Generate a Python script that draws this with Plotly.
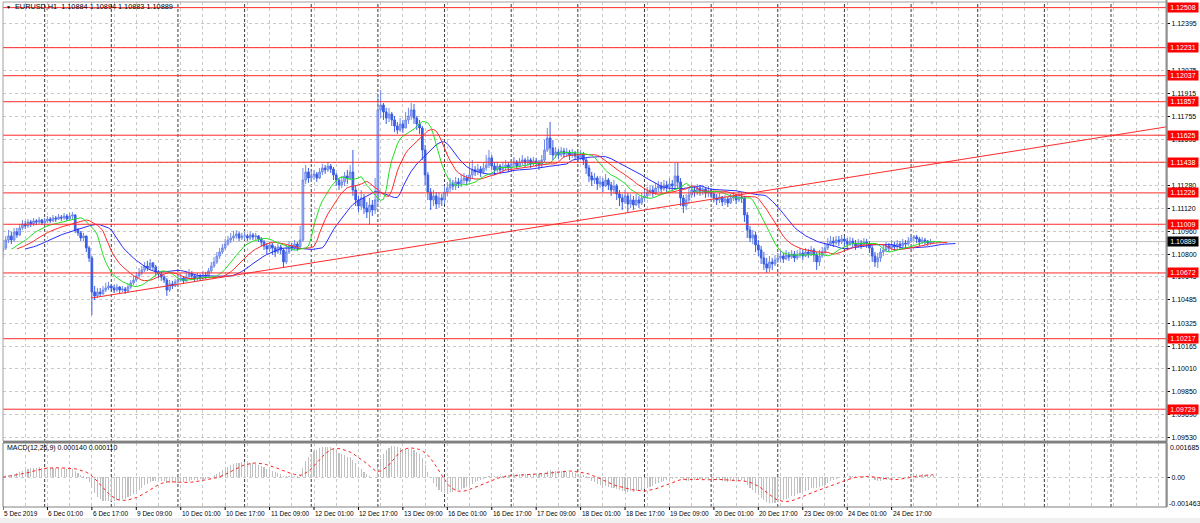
import plotly.graph_objects as go
import pandas as pd
import numpy as np

W, H = 1200, 523

# ---------------- data (EURUSD H1, 5 Dec 2019 09:00 ... 25 Dec 08:00) ----------------
close = [
    # 5 Dec 09-23
    1.10845, 1.10900, 1.10928, 1.10900, 1.10956, 1.10935, 1.10983, 1.11011, 1.10997, 1.11025, 1.11011, 1.11032, 1.11025, 1.11039, 1.11018,
    # 6 Dec
    1.11032, 1.11045, 1.11032, 1.11052, 1.11045, 1.11059, 1.11052, 1.11066, 1.11045, 1.11066, 1.11073, 1.10969, 1.10949, 1.10914, 1.10928, 1.10845, 1.10776, 1.10540, 1.10513, 1.10540, 1.10527, 1.10554, 1.10568, 1.10582,
    # 9 Dec
    1.10568, 1.10554, 1.10575, 1.10554, 1.10561, 1.10547, 1.10575, 1.10603, 1.10623, 1.10651, 1.10672, 1.10693, 1.10720, 1.10706, 1.10741, 1.10713, 1.10679, 1.10665, 1.10644, 1.10623, 1.10554, 1.10596, 1.10582, 1.10610,
    # 10 Dec
    1.10623, 1.10637, 1.10617, 1.10644, 1.10665, 1.10651, 1.10630, 1.10651, 1.10637, 1.10658, 1.10651, 1.10686, 1.10720, 1.10748, 1.10789, 1.10817, 1.10845, 1.10872, 1.10900, 1.10914, 1.10928, 1.10942, 1.10914, 1.10928,
    # 11 Dec
    1.10928, 1.10914, 1.10935, 1.10921, 1.10928, 1.10907, 1.10886, 1.10859, 1.10838, 1.10866, 1.10845, 1.10817, 1.10852, 1.10831, 1.10748, 1.10817, 1.10859, 1.10845, 1.10872, 1.10852, 1.10900, 1.11315, 1.11371, 1.11329,
    # 12 Dec
    1.11343, 1.11357, 1.11329, 1.11371, 1.11398, 1.11385, 1.11412, 1.11391, 1.11350, 1.11315, 1.11281, 1.11302, 1.11343, 1.11329, 1.11371, 1.11246, 1.11177, 1.11135, 1.11191, 1.11121, 1.11094, 1.11142, 1.11108, 1.11177,
    # 13 Dec
    1.11800, 1.11834, 1.11786, 1.11744, 1.11772, 1.11731, 1.11689, 1.11661, 1.11703, 1.11675, 1.11731, 1.11758, 1.11800, 1.11744, 1.11703, 1.11675, 1.11523, 1.11350, 1.11232, 1.11177, 1.11205, 1.11149, 1.11191, 1.11177,
    # 16 Dec
    1.11232, 1.11260, 1.11288, 1.11274, 1.11302, 1.11288, 1.11315, 1.11329, 1.11309, 1.11350, 1.11385, 1.11371, 1.11391, 1.11371, 1.11398, 1.11419, 1.11468, 1.11412, 1.11385, 1.11412, 1.11385, 1.11405, 1.11419, 1.11398,
    # 17 Dec
    1.11426, 1.11440, 1.11412, 1.11440, 1.11454, 1.11433, 1.11454, 1.11426, 1.11447, 1.11433, 1.11419, 1.11454, 1.11523, 1.11606, 1.11537, 1.11488, 1.11509, 1.11488, 1.11516, 1.11495, 1.11509, 1.11488, 1.11502, 1.11481,
    # 18 Dec
    1.11468, 1.11488, 1.11454, 1.11398, 1.11343, 1.11315, 1.11329, 1.11288, 1.11302, 1.11274, 1.11315, 1.11281, 1.11246, 1.11274, 1.11218, 1.11191, 1.11163, 1.11205, 1.11149, 1.11177, 1.11142, 1.11177, 1.11156, 1.11191,
    # 19 Dec
    1.11205, 1.11232, 1.11246, 1.11225, 1.11260, 1.11274, 1.11253, 1.11281, 1.11267, 1.11288, 1.11274, 1.11343, 1.11302, 1.11191, 1.11135, 1.11177, 1.11212, 1.11246, 1.11232, 1.11260, 1.11239, 1.11253, 1.11225, 1.11239,
    # 20 Dec
    1.11218, 1.11191, 1.11177, 1.11198, 1.11163, 1.11184, 1.11156, 1.11191, 1.11205, 1.11177, 1.11198, 1.11191, 1.11073, 1.10969, 1.10914, 1.10935, 1.10866, 1.10831, 1.10776, 1.10734, 1.10706, 1.10748, 1.10734, 1.10762,
    # 23 Dec
    1.10776, 1.10789, 1.10769, 1.10796, 1.10782, 1.10803, 1.10776, 1.10796, 1.10810, 1.10789, 1.10817, 1.10803, 1.10831, 1.10796, 1.10748, 1.10789, 1.10817, 1.10845, 1.10872, 1.10893, 1.10879, 1.10900, 1.10886, 1.10907,
    # 24 Dec
    1.10893, 1.10872, 1.10893, 1.10879, 1.10859, 1.10879, 1.10866, 1.10886, 1.10872, 1.10845, 1.10789, 1.10748, 1.10776, 1.10817, 1.10831, 1.10859, 1.10845, 1.10866, 1.10852, 1.10872, 1.10859, 1.10879, 1.10872, 1.10893,
    # 25 Dec
    1.10914, 1.10921, 1.10907, 1.10886, 1.10900, 1.10893, 1.10879, 1.10886, 1.10889,
]

high = [
    1.10900, 1.10928, 1.10969, 1.10956, 1.10983, 1.10983, 1.11011, 1.11039, 1.11032, 1.11045, 1.11039, 1.11052, 1.11045, 1.11059, 1.11045,
    1.11052, 1.11066, 1.11059, 1.11073, 1.11066, 1.11080, 1.11073, 1.11087, 1.11080, 1.11087, 1.11094, 1.11080, 1.10983, 1.10963, 1.10949, 1.10928, 1.10859, 1.10789, 1.10582, 1.10568, 1.10568, 1.10582, 1.10603, 1.10610,
    1.10596, 1.10589, 1.10596, 1.10582, 1.10582, 1.10575, 1.10596, 1.10623, 1.10651, 1.10679, 1.10706, 1.10720, 1.10748, 1.10755, 1.10769, 1.10748, 1.10727, 1.10693, 1.10679, 1.10658, 1.10637, 1.10623, 1.10617, 1.10630,
    1.10651, 1.10665, 1.10651, 1.10679, 1.10700, 1.10686, 1.10665, 1.10672, 1.10665, 1.10686, 1.10679, 1.10706, 1.10748, 1.10782, 1.10817, 1.10845, 1.10872, 1.10907, 1.10928, 1.10949, 1.10963, 1.10969, 1.10956, 1.10949,
    1.10956, 1.10942, 1.10956, 1.10949, 1.10949, 1.10935, 1.10921, 1.10900, 1.10879, 1.10886, 1.10879, 1.10859, 1.10872, 1.10866, 1.10845, 1.10866, 1.10893, 1.10879, 1.10900, 1.10886, 1.10997, 1.11398, 1.11419, 1.11398,
    1.11385, 1.11385, 1.11371, 1.11398, 1.11426, 1.11419, 1.11440, 1.11426, 1.11405, 1.11364, 1.11329, 1.11343, 1.11371, 1.11385, 1.11419, 1.11523, 1.11274, 1.11205, 1.11246, 1.11218, 1.11163, 1.11191, 1.11177, 1.11329,
    1.11904, 1.11938, 1.11848, 1.11814, 1.11814, 1.11786, 1.11758, 1.11717, 1.11744, 1.11731, 1.11786, 1.11814, 1.11848, 1.11841, 1.11758, 1.11731, 1.11689, 1.11558, 1.11371, 1.11260, 1.11246, 1.11232, 1.11232, 1.11218,
    1.11274, 1.11302, 1.11329, 1.11315, 1.11336, 1.11329, 1.11350, 1.11364, 1.11350, 1.11440, 1.11454, 1.11412, 1.11426, 1.11412, 1.11433, 1.11488, 1.11523, 1.11488, 1.11440, 1.11440, 1.11426, 1.11440, 1.11454, 1.11440,
    1.11454, 1.11475, 1.11454, 1.11468, 1.11488, 1.11468, 1.11481, 1.11468, 1.11475, 1.11468, 1.11454, 1.11488, 1.11592, 1.11675, 1.11717, 1.11592, 1.11544, 1.11530, 1.11544, 1.11537, 1.11537, 1.11523, 1.11530, 1.11516,
    1.11509, 1.11523, 1.11509, 1.11468, 1.11419, 1.11371, 1.11364, 1.11343, 1.11343, 1.11329, 1.11357, 1.11329, 1.11302, 1.11315, 1.11288, 1.11246, 1.11218, 1.11246, 1.11225, 1.11218, 1.11205, 1.11218, 1.11205, 1.11225,
    1.11246, 1.11267, 1.11281, 1.11274, 1.11295, 1.11309, 1.11302, 1.11315, 1.11309, 1.11329, 1.11315, 1.11433, 1.11433, 1.11329, 1.11212, 1.11218, 1.11260, 1.11281, 1.11274, 1.11288, 1.11281, 1.11281, 1.11267, 1.11274,
    1.11260, 1.11232, 1.11218, 1.11225, 1.11205, 1.11212, 1.11198, 1.11218, 1.11232, 1.11218, 1.11232, 1.11225, 1.11205, 1.11094, 1.10997, 1.10969, 1.10956, 1.10900, 1.10859, 1.10817, 1.10776, 1.10789, 1.10776, 1.10796,
    1.10810, 1.10824, 1.10810, 1.10831, 1.10817, 1.10831, 1.10824, 1.10831, 1.10845, 1.10831, 1.10845, 1.10838, 1.10859, 1.10845, 1.10817, 1.10831, 1.10852, 1.10879, 1.10914, 1.10928, 1.10921, 1.10928, 1.10928, 1.10935,
    1.10928, 1.10914, 1.10921, 1.10914, 1.10900, 1.10907, 1.10900, 1.10914, 1.10907, 1.10893, 1.10859, 1.10817, 1.10810, 1.10845, 1.10866, 1.10886, 1.10879, 1.10900, 1.10886, 1.10900, 1.10893, 1.10907, 1.10900, 1.10921,
    1.10942, 1.10935, 1.10935, 1.10921, 1.10921, 1.10914, 1.10900, 1.10907, 1.10894,
]

low = [
    1.10776, 1.10831, 1.10879, 1.10872, 1.10886, 1.10914, 1.10928, 1.10969, 1.10976, 1.10983, 1.10990, 1.10997, 1.11004, 1.11011, 1.11004,
    1.11004, 1.11018, 1.11018, 1.11025, 1.11025, 1.11039, 1.11032, 1.11039, 1.11032, 1.11039, 1.11045, 1.10949, 1.10928, 1.10893, 1.10893, 1.10817, 1.10748, 1.10381, 1.10485, 1.10499, 1.10506, 1.10520, 1.10540, 1.10554,
    1.10540, 1.10533, 1.10540, 1.10533, 1.10540, 1.10527, 1.10533, 1.10561, 1.10589, 1.10610, 1.10637, 1.10658, 1.10679, 1.10686, 1.10693, 1.10693, 1.10658, 1.10637, 1.10617, 1.10603, 1.10513, 1.10540, 1.10561, 1.10575,
    1.10596, 1.10610, 1.10596, 1.10610, 1.10630, 1.10630, 1.10610, 1.10617, 1.10617, 1.10623, 1.10630, 1.10637, 1.10672, 1.10706, 1.10734, 1.10769, 1.10803, 1.10831, 1.10859, 1.10879, 1.10893, 1.10907, 1.10893, 1.10900,
    1.10900, 1.10893, 1.10900, 1.10900, 1.10900, 1.10886, 1.10859, 1.10831, 1.10803, 1.10817, 1.10796, 1.10782, 1.10803, 1.10803, 1.10706, 1.10734, 1.10803, 1.10824, 1.10831, 1.10824, 1.10838, 1.10886, 1.11288, 1.11295,
    1.11302, 1.11315, 1.11302, 1.11322, 1.11350, 1.11357, 1.11371, 1.11364, 1.11315, 1.11274, 1.11246, 1.11260, 1.11274, 1.11288, 1.11315, 1.11205, 1.11135, 1.11094, 1.11108, 1.11080, 1.11052, 1.11004, 1.11066, 1.11080,
    1.11142, 1.11744, 1.11731, 1.11703, 1.11717, 1.11689, 1.11648, 1.11634, 1.11648, 1.11641, 1.11675, 1.11703, 1.11731, 1.11703, 1.11661, 1.11634, 1.11454, 1.11281, 1.11177, 1.11108, 1.11135, 1.11115, 1.11121, 1.11135,
    1.11149, 1.11205, 1.11232, 1.11246, 1.11246, 1.11260, 1.11267, 1.11288, 1.11281, 1.11302, 1.11329, 1.11343, 1.11350, 1.11336, 1.11357, 1.11378, 1.11398, 1.11385, 1.11350, 1.11371, 1.11357, 1.11371, 1.11385, 1.11371,
    1.11385, 1.11405, 1.11391, 1.11405, 1.11419, 1.11405, 1.11412, 1.11398, 1.11412, 1.11405, 1.11385, 1.11398, 1.11440, 1.11509, 1.11488, 1.11454, 1.11468, 1.11461, 1.11475, 1.11468, 1.11475, 1.11454, 1.11468, 1.11454,
    1.11440, 1.11454, 1.11419, 1.11357, 1.11302, 1.11274, 1.11288, 1.11246, 1.11260, 1.11232, 1.11267, 1.11246, 1.11205, 1.11218, 1.11177, 1.11135, 1.11108, 1.11149, 1.11094, 1.11121, 1.11108, 1.11135, 1.11121, 1.11142,
    1.11163, 1.11184, 1.11205, 1.11198, 1.11212, 1.11232, 1.11225, 1.11239, 1.11232, 1.11246, 1.11239, 1.11260, 1.11260, 1.11135, 1.11087, 1.11108, 1.11149, 1.11191, 1.11198, 1.11212, 1.11205, 1.11212, 1.11191, 1.11198,
    1.11191, 1.11163, 1.11142, 1.11156, 1.11135, 1.11142, 1.11128, 1.11149, 1.11170, 1.11149, 1.11163, 1.11156, 1.11025, 1.10914, 1.10886, 1.10872, 1.10817, 1.10789, 1.10734, 1.10693, 1.10672, 1.10679, 1.10693, 1.10720,
    1.10741, 1.10748, 1.10741, 1.10762, 1.10755, 1.10769, 1.10748, 1.10762, 1.10776, 1.10762, 1.10782, 1.10776, 1.10789, 1.10748, 1.10693, 1.10720, 1.10776, 1.10803, 1.10831, 1.10859, 1.10852, 1.10866, 1.10859, 1.10872,
    1.10859, 1.10845, 1.10859, 1.10852, 1.10831, 1.10845, 1.10838, 1.10852, 1.10845, 1.10810, 1.10748, 1.10713, 1.10706, 1.10748, 1.10789, 1.10817, 1.10817, 1.10831, 1.10824, 1.10838, 1.10831, 1.10845, 1.10845, 1.10859,
    1.10879, 1.10893, 1.10879, 1.10859, 1.10872, 1.10866, 1.10859, 1.10866, 1.10883,
]

first_open = 1.10831
last_open = 1.10884

date_labels = ["5 Dec 2019", "6 Dec 01:00", "6 Dec 17:00", "9 Dec 09:00", "10 Dec 01:00",
               "10 Dec 17:00", "11 Dec 09:00", "12 Dec 01:00", "12 Dec 17:00", "13 Dec 09:00",
               "16 Dec 01:00", "16 Dec 17:00", "17 Dec 09:00", "18 Dec 01:00", "18 Dec 17:00",
               "19 Dec 09:00", "20 Dec 01:00", "20 Dec 17:00", "23 Dec 09:00", "24 Dec 01:00",
               "24 Dec 17:00"]
label_every = 16
first_midnight = 15      # bar index of 6 Dec 00:00

price_ticks = [1.12395, 1.12235, 1.12075, 1.11915, 1.11755, 1.11595, 1.11435, 1.11280, 1.11120,
               1.10960, 1.10800, 1.10645, 1.10485, 1.10325, 1.10165, 1.10010, 1.09850, 1.09690, 1.09530]
hidden_ticks = [1.12235, 1.11435]

levels = [1.12508, 1.12231, 1.12037, 1.11857, 1.11625, 1.11438, 1.11226, 1.11009, 1.10672, 1.10217, 1.09729]
current_price = 1.10889

trend_x = [32, 250]
trend_y = [1.10499, 1.11166]

macd_top, macd_bottom = 0.001685, -0.001463
title_text = "EURUSD,H1  1.10884 1.10894 1.10883 1.10889"
macd_text = "MACD(12,26,9) 0.000140 0.000110"

# ---------------- derived series ----------------
n = len(close)
idx = np.arange(n)
opens = [first_open] + close[:-1]
opens[-1] = last_open

df = pd.DataFrame({"o": opens, "h": high, "l": low, "c": close})
median = (df.h + df.l) / 2


def smma(series, period):
    out = np.zeros(len(series))
    out[0] = series.iloc[0]
    for i in range(1, len(series)):
        out[i] = (out[i - 1] * (period - 1) + series.iloc[i]) / period
    return out


jaw = smma(median, 13)
teeth = smma(median, 8)
lips = smma(median, 5)

ema12 = df.c.ewm(span=12, adjust=False).mean()
ema26 = df.c.ewm(span=26, adjust=False).mean()
macd_main = ema12 - ema26
macd_signal = macd_main.rolling(9, min_periods=1).mean()

# ---------------- layout geometry ----------------
X0, X1 = 3, 1166
MAIN_T, MAIN_B = 2, 441
SUB_T, SUB_B = 443, 507
BAR_PX = 2.777
x_max = (X1 - X0) / BAR_PX
price_top = 1.12547
price_bot = 1.09509


def fx(px):
    return px / W


def fy(py):
    return 1 - py / H


FONT = "Liberation Sans, Arial, sans-serif"
FS = 7

fig = go.Figure()

fig.add_trace(go.Candlestick(
    x=idx, open=df.o, high=df.h, low=df.l, close=df.c,
    increasing=dict(line=dict(color="#6f89e8", width=1), fillcolor="#a9baf2"),
    decreasing=dict(line=dict(color="#3a5de2", width=1), fillcolor="#3a5de2"),
    whiskerwidth=0, xaxis="x", yaxis="y", hoverinfo="skip"))

for vals, shift, color in [(jaw, 8, "#2b2bff"), (teeth, 5, "#ff2b2b"), (lips, 3, "#22e022")]:
    fig.add_trace(go.Scatter(x=idx + shift, y=vals, mode="lines",
                             line=dict(color=color, width=1), xaxis="x", yaxis="y",
                             hoverinfo="skip"))

fig.add_trace(go.Bar(x=idx, y=macd_main, marker=dict(color="#c0c0c0", line=dict(width=0)),
                     width=0.4, xaxis="x2", yaxis="y2", hoverinfo="skip"))
fig.add_trace(go.Scatter(x=idx, y=macd_signal, mode="lines",
                         line=dict(color="#ff2020", width=1, dash="dot"),
                         xaxis="x2", yaxis="y2", hoverinfo="skip"))

grid_x = list(range(0, int(x_max) + 1, 8))
axis_common = dict(showgrid=True, gridcolor="#c8c8c8", griddash="3px,3px", gridwidth=1,
                   zeroline=False, showline=False, automargin=False)

fig.update_layout(
    width=W, height=H, margin=dict(l=0, r=0, t=0, b=0, pad=0),
    paper_bgcolor="white", plot_bgcolor="white", showlegend=False,
    font=dict(family=FONT, size=FS, color="black"), bargap=0, boxgap=0.15,
    xaxis=dict(domain=[fx(X0), fx(X1)], range=[0, x_max], tickvals=grid_x,
               showticklabels=False, ticks="", anchor="y",
               rangeslider=dict(visible=False), **axis_common),
    yaxis=dict(domain=[fy(MAIN_B), fy(MAIN_T)], range=[price_bot, price_top], side="right",
               tickvals=price_ticks,
               ticktext=["" if t in hidden_ticks else f"{t:.5f}" for t in price_ticks],
               ticks="outside", ticklen=3, tickcolor="black", anchor="x",
               tickfont=dict(family=FONT, size=FS, color="black"), **axis_common),
    xaxis2=dict(domain=[fx(X0), fx(X1)], range=[0, x_max], matches="x", tickvals=grid_x,
                showticklabels=False, ticks="", anchor="y2", **axis_common),
    yaxis2=dict(domain=[fy(SUB_B), fy(SUB_T)], range=[macd_bottom, macd_top], side="right",
                tickvals=[0], ticktext=["0.00"], ticks="outside", ticklen=3, tickcolor="black",
                anchor="x2", tickfont=dict(family=FONT, size=FS, color="black"), **axis_common),
)

shapes = []
# bottom grey strip
shapes.append(dict(type="rect", xref="paper", yref="paper", x0=0, x1=1, y0=0, y1=fy(518),
                   fillcolor="#f0f0f0", line=dict(width=0), layer="below"))
# day separators
for d in range(first_midnight, int(x_max) + 1, 24):
    shapes.append(dict(type="line", xref="x", yref="paper", x0=d, x1=d,
                       y0=fy(SUB_B), y1=fy(MAIN_T),
                       line=dict(color="#3a3a3a", width=1, dash="3px,2px"), layer="between"))
# current price line
shapes.append(dict(type="line", xref="paper", yref="y", x0=fx(X0), x1=fx(X1),
                   y0=current_price, y1=current_price,
                   line=dict(color="#c0c0c0", width=1), layer="between"))
# horizontal levels
for lv in levels:
    shapes.append(dict(type="line", xref="paper", yref="y", x0=fx(X0), x1=fx(X1),
                       y0=lv, y1=lv, line=dict(color="#ff2a2a", width=1), layer="above"))
# trend line (ray to the right edge)
slope = (trend_y[1] - trend_y[0]) / (trend_x[1] - trend_x[0])
shapes.append(dict(type="line", xref="x", yref="y", x0=trend_x[0], y0=trend_y[0],
                   x1=x_max, y1=trend_y[0] + slope * (x_max - trend_x[0]),
                   line=dict(color="#ff2a2a", width=1), layer="above"))
# panel frames
shapes.append(dict(type="rect", xref="paper", yref="paper", x0=fx(X0), x1=fx(X1 + 1),
                   y0=fy(MAIN_B), y1=fy(MAIN_T), line=dict(color="#a0a0a0", width=1),
                   layer="above"))
shapes.append(dict(type="rect", xref="paper", yref="paper", x0=fx(X0), x1=fx(X1 + 1),
                   y0=fy(SUB_B), y1=fy(SUB_T), line=dict(color="#808080", width=1),
                   layer="above"))
shapes.append(dict(type="line", xref="paper", yref="paper", x0=fx(X1 + 0.5), x1=fx(X1 + 0.5),
                   y0=fy(SUB_B), y1=fy(0), line=dict(color="#909090", width=2), layer="above"))
shapes.append(dict(type="line", xref="paper", yref="paper", x0=fx(X0), x1=fx(X1 + 1),
                   y0=fy(442), y1=fy(442), line=dict(color="#808080", width=2), layer="above"))
# time-axis tick marks
for k in range(len(date_labels)):
    shapes.append(dict(type="line", xref="x", yref="paper", x0=k * label_every,
                       x1=k * label_every, ysizemode="pixel", yanchor=fy(SUB_B),
                       y0=0, y1=-3, line=dict(color="black", width=1), layer="above"))
fig.update_layout(shapes=shapes)

ann = []
# level labels
for lv in levels:
    ann.append(dict(xref="paper", yref="y", x=fx(X1 + 1), y=lv, xanchor="left",
                    yanchor="middle", text=f"{lv:.5f}", showarrow=False,
                    font=dict(family=FONT, size=FS, color="white"), bgcolor="#ff0000",
                    borderpad=0, width=30, height=9, align="center"))
ann.append(dict(xref="paper", yref="y", x=fx(X1 + 1), y=current_price, xanchor="left",
                yanchor="middle", text=f"{current_price:.5f}", showarrow=False,
                font=dict(family=FONT, size=FS, color="white"), bgcolor="#000000",
                borderpad=0, width=30, height=9, align="center"))
# MACD scale labels
ann.append(dict(xref="paper", yref="paper", x=fx(1168), y=fy(447), xanchor="left",
                yanchor="middle", text=f"{macd_top:.6f}", showarrow=False,
                font=dict(family=FONT, size=FS, color="black")))
ann.append(dict(xref="paper", yref="paper", x=fx(1167), y=fy(503), xanchor="left",
                yanchor="middle", text=f"{macd_bottom:.6f}", showarrow=False,
                font=dict(family=FONT, size=FS, color="black")))
# date labels
for k, lab in enumerate(date_labels):
    ann.append(dict(xref="x", yref="paper", x=k * label_every, y=fy(SUB_B), xanchor="left",
                    yanchor="top", yshift=-1, xshift=-1, text=lab, showarrow=False,
                    font=dict(family=FONT, size=6.5, color="black")))
# titles
ann.append(dict(xref="paper", yref="paper", x=fx(4), y=fy(7), xanchor="left", yanchor="middle",
                text="\u25bc", showarrow=False, font=dict(family=FONT, size=5, color="black")))
ann.append(dict(xref="paper", yref="paper", x=fx(13), y=fy(7), xanchor="left", yanchor="middle",
                text=title_text, showarrow=False, font=dict(family=FONT, size=7.3, color="black")))
ann.append(dict(xref="paper", yref="paper", x=fx(5), y=fy(448), xanchor="left",
                yanchor="middle", text=macd_text, showarrow=False,
                font=dict(family=FONT, size=FS, color="black")))
ann.append(dict(xref="paper", yref="paper", x=fx(932), y=fy(3), xanchor="center",
                yanchor="middle", text="\u25bc", showarrow=False,
                font=dict(family=FONT, size=6, color="#b0b0b0")))
fig.update_layout(annotations=ann)

fig.write_html("out.html", config={"displayModeBar": False, "staticPlot": True},
               post_script="document.body.style.margin='0';document.body.style.padding='0';")
